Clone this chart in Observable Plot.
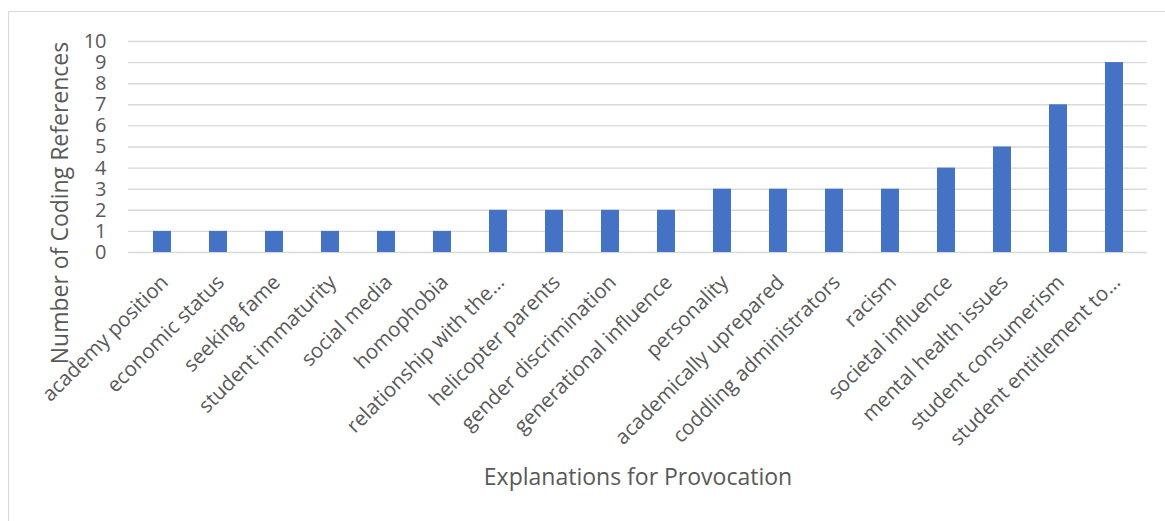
<!DOCTYPE html>
<html>
<head>
<meta charset="utf-8">
<script src="https://cdn.jsdelivr.net/npm/d3@7"></script>
<script src="https://cdn.jsdelivr.net/npm/@observablehq/plot@0.6"></script>
<style>
  html, body { margin: 0; padding: 0; background: #ffffff; }
  #wrap { position: relative; width: 1165px; height: 521px; overflow: hidden; }
  #border { position: absolute; left: 8px; top: 11px; width: 1300px; height: 700px;
            border: 1.5px solid #d9d9d9; box-sizing: border-box; }
  #chart { position: absolute; left: 0; top: 0; }
</style>
</head>
<body>
<div id="wrap"><div id="border"></div><div id="chart"></div></div>
<script>
// Explanations coded in the interviews and how often each was referenced
const categories = [
  "academy position", "economic status", "seeking fame", "student immaturity",
  "social media", "homophobia", "relationship with the…", "helicopter parents",
  "gender discrimination", "generational influence", "personality",
  "academically uprepared", "coddling administrators", "racism",
  "societal influence", "mental health issues", "student consumerism",
  "student entitlement to…"
];
const references = [1, 1, 1, 1, 1, 1, 2, 2, 2, 2, 3, 3, 3, 3, 4, 5, 7, 9];
const yTicks = [0, 1, 2, 3, 4, 5, 6, 7, 8, 9, 10];
const xTitle = "Explanations for Provocation";
const yTitle = "Number of Coding References";

const rows = categories.map((c, i) => ({category: c, count: references[i]}));

const TEXT = "#595959";
const GRID = "#d9d9d9";
const BAR = "#4472C4";

const chart = Plot.plot({
  width: 1165,
  height: 521,
  marginLeft: 128,
  marginRight: 18,
  marginTop: 41,
  marginBottom: 269,
  style: {fontFamily: "'Open Sans', sans-serif", fontSize: "20px", color: TEXT, background: "transparent"},
  x: {domain: categories, paddingInner: 0.68, paddingOuter: 0.34, axis: null},
  y: {domain: [0, 10], axis: null},
  marks: [
    Plot.gridY(yTicks, {stroke: GRID, strokeOpacity: 1, strokeWidth: 1.4}),
    Plot.axisY(yTicks, {tickSize: 0, tickPadding: 22, fill: TEXT, fontSize: 20, label: null}),
    Plot.barY(rows, {x: "category", y: "count", fill: BAR}),
    // category labels, slanted under each bar
    Plot.text(categories, {
      x: d => d, frameAnchor: "bottom", rotate: -45, textAnchor: "end", lineAnchor: "bottom",
      dx: 7, dy: 31, fill: TEXT, fontSize: 20.5
    }),
    Plot.text([xTitle], {frameAnchor: "bottom", textAnchor: "middle", dy: 232, fill: TEXT, fontSize: 23}),
    Plot.text([yTitle], {frameAnchor: "left", textAnchor: "middle", rotate: -90, dx: -68, dy: 56, fill: TEXT, fontSize: 23})
  ]
});

document.getElementById("chart").appendChild(chart);
</script>
</body>
</html>
